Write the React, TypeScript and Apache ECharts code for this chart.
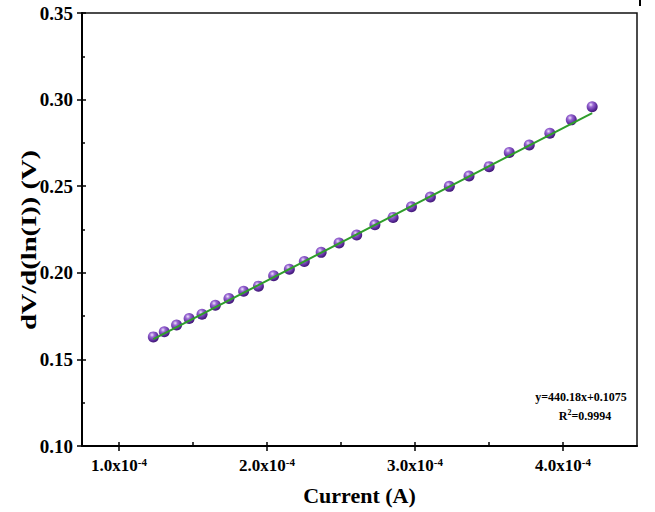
import React, { useEffect, useRef } from 'react';
import * as echarts from 'echarts';

// Measured data (current in A, dV/d(lnI) in V)
const currentA = [
  1.232e-4, 1.306e-4, 1.389e-4, 1.474e-4, 1.561e-4, 1.651e-4, 1.743e-4, 1.842e-4, 1.942e-4,
  2.045e-4, 2.151e-4, 2.252e-4, 2.366e-4, 2.487e-4, 2.606e-4, 2.729e-4, 2.852e-4, 2.976e-4,
  3.104e-4, 3.232e-4, 3.365e-4, 3.501e-4, 3.637e-4, 3.772e-4, 3.911e-4, 4.056e-4, 4.197e-4,
];
const dVdlnI = [
  0.1630, 0.1659, 0.1698, 0.1736, 0.1761, 0.1813, 0.1852, 0.1894, 0.1923,
  0.1983, 0.2021, 0.2065, 0.2118, 0.2172, 0.2218, 0.2277, 0.2320, 0.2381,
  0.2437, 0.2499, 0.2559, 0.2613, 0.2695, 0.2738, 0.2806, 0.2883, 0.2959,
];
// Linear fit endpoints
const fitCurrent = [1.232e-4, 4.197e-4];
const fitValue = [0.1617, 0.2922];

const xMajorTicks = [1e-4, 2e-4, 3e-4, 4e-4];
const xMinorTicks = [1.5e-4, 2.5e-4, 3.5e-4];
const fitEquation = 'y=440.18x+0.1075';
const rSquared = '=0.9994';
const xTitle = 'Current (A)';
const yTitle = 'dV/d(ln(I)) (V)';

export default function App() {
  const ref = useRef<HTMLDivElement>(null);
  useEffect(() => {
    const chart = echarts.init(ref.current!, null, { renderer: 'svg' });
    const serif = '"Liberation Serif", "Times New Roman", serif';
    const black = '#000';
    const axisLine = { show: true, onZero: false, lineStyle: { color: black, width: 2 } };
    const tickStyle = { color: black, width: 1.5 };
    const scatterData = currentA.map((x, i) => [x, dVdlnI[i]]);
    const fitData = fitCurrent.map((x, i) => [x, fitValue[i]]);
    const sphere = new echarts.graphic.RadialGradient(0.38, 0.32, 0.7, [
      { offset: 0, color: '#f0e6fb' },
      { offset: 0.3, color: '#9a68d4' },
      { offset: 0.75, color: '#5c2c9c' },
      { offset: 1, color: '#3f1672' },
    ]);

    chart.setOption({
      animation: false,
      backgroundColor: '#fff',
      grid: {
        left: 82, right: 18, top: 13, bottom: 66,
        show: true, borderColor: '#111', borderWidth: 1.5, backgroundColor: 'transparent',
      },
      xAxis: [
        {
          type: 'value', min: 0.75e-4, max: 4.5e-4, position: 'bottom',
          axisLine,
          axisTick: { show: true, inside: false, length: 5, lineStyle: tickStyle, customValues: xMajorTicks },
          axisLabel: {
            customValues: xMajorTicks,
            margin: 10,
            formatter: (v: number) => `{m|${(v / 1e-4).toFixed(1)}x10}{e|-4}`,
            rich: {
              m: { fontSize: 17, fontWeight: 'bold', fontFamily: serif, color: black },
              e: { fontSize: 11, fontWeight: 'bold', fontFamily: serif, color: black, verticalAlign: 'top', padding: [0, 0, 8, 0] },
            },
          },
          splitLine: { show: false },
          name: xTitle,
          nameLocation: 'middle',
          nameGap: 38,
          nameTextStyle: { fontSize: 22, fontWeight: 'bold', fontFamily: serif, color: black },
        },
        {
          type: 'value', min: 0.75e-4, max: 4.5e-4, position: 'bottom',
          axisLine: { show: false, onZero: false },
          axisTick: { show: true, inside: true, length: 4, lineStyle: tickStyle, customValues: [...xMajorTicks, ...xMinorTicks] },
          axisLabel: { show: false },
          splitLine: { show: false },
        },
      ],
      yAxis: [
        {
          type: 'value', min: 0.1, max: 0.35, interval: 0.05, position: 'left',
          axisLine,
          axisTick: { show: true, inside: false, length: 5, lineStyle: tickStyle },
          axisLabel: {
            margin: 9,
            formatter: (v: number) => v.toFixed(2),
            fontSize: 19, fontWeight: 'bold', fontFamily: serif, color: black,
          },
          splitLine: { show: false },
        },
        {
          type: 'value', min: 0.1, max: 0.35, interval: 0.05, position: 'left',
          axisLine: { show: false, onZero: false },
          axisTick: { show: true, inside: true, length: 4, lineStyle: tickStyle },
          minorTick: { show: true, splitNumber: 2, length: 3, lineStyle: tickStyle },
          axisLabel: { show: false },
          splitLine: { show: false },
        },
      ],
      series: [
        {
          type: 'scatter', xAxisIndex: 0, yAxisIndex: 0,
          data: scatterData, symbol: 'circle', symbolSize: 11, z: 2,
          itemStyle: { color: sphere, opacity: 1 },
        },
        {
          type: 'line', xAxisIndex: 0, yAxisIndex: 0,
          data: fitData, showSymbol: false, symbol: 'none', z: 3,
          lineStyle: { color: '#2f9e2a', width: 2 },
        },
      ],
      graphic: [
        {
          type: 'text', x: 29, y: 240, rotation: Math.PI / 2, scaleX: 1.3,
          style: { text: yTitle, fill: black, font: `bold 22px ${serif}`, align: 'center', verticalAlign: 'middle' },
        },
        {
          type: 'text', x: 581, y: 397,
          style: { text: fitEquation, fill: black, font: `bold 12px ${serif}`, align: 'center', verticalAlign: 'middle' },
        },
        {
          type: 'text', x: 585, y: 416,
          style: {
            text: `{r|R}{s|2}{r|${rSquared}}`,
            align: 'center', verticalAlign: 'middle',
            rich: {
              r: { fontSize: 12, fontWeight: 'bold', fontFamily: serif, fill: black },
              s: { fontSize: 8, fontWeight: 'bold', fontFamily: serif, fill: black, verticalAlign: 'top', padding: [0, 0, 8, 0] },
            },
          },
        },
        {
          type: 'line', shape: { x1: 640, y1: 0, x2: 640, y2: 6 },
          style: { stroke: black, lineWidth: 2 },
        },
      ],
    });
    return () => chart.dispose();
  }, []);
  return <div ref={ref} style={{ position: 'fixed', left: 0, top: 0, width: 655, height: 512 }} />;
}
